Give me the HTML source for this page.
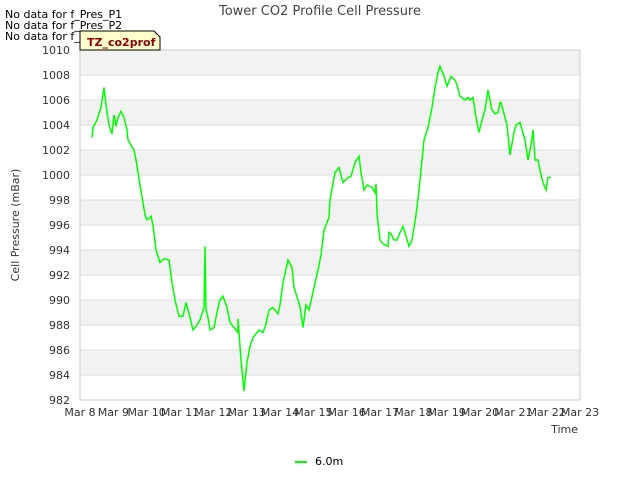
<!DOCTYPE html>
<html><head><meta charset="utf-8"><style>
body{margin:0;background:#fff;font-family:"Liberation Sans","DejaVu Sans",sans-serif;}
svg text{font-family:"DejaVu Sans","Liberation Sans",sans-serif;}
</style></head><body>
<svg width="640" height="480" viewBox="0 0 640 480" xmlns="http://www.w3.org/2000/svg">
<rect x="0" y="0" width="640" height="480" fill="#fff"/>
<g id="bands"></g>
<g id="grid"></g>
<rect x="80" y="50" width="500" height="350" fill="none" stroke="#ccc"/>
<g id="yticks" font-size="11" fill="#333" text-anchor="end"></g>
<g id="xticks" font-size="11" fill="#333" text-anchor="middle"></g>
<path id="line" fill="none" stroke="#00ff00" stroke-width="1.5"/>
<text x="320" y="15" font-size="13" fill="#444" text-anchor="middle">Tower CO2 Profile Cell Pressure</text>
<text x="19" y="225" font-size="11" fill="#333" text-anchor="middle" transform="rotate(-90 19 225)">Cell Pressure (mBar)</text>
<text x="578" y="433" font-size="11" fill="#333" text-anchor="end">Time</text>
<g font-size="11" fill="#000">
<text x="5" y="18">No data for f_Pres_P1</text>
<text x="5" y="29">No data for f_Pres_P2</text>
<text x="5" y="40">No data for f_Pres_P4</text>
</g>
<g>
<path d="M80,31 L154,31 L160,37 L160,50 L80,50 Z" fill="#ffffcc" stroke="#000" stroke-width="1"/>
<text x="87" y="46" font-size="11" font-weight="bold" fill="#8b0000">TZ_co2prof</text>
</g>
<g>
<line x1="295" y1="462" x2="307" y2="462" stroke="#00ff00" stroke-width="2"/>
<text x="315" y="465" font-size="11" fill="#000">6.0m</text>
</g>
</svg>
<script>
const xTickLabels=["Mar 8","Mar 9","Mar 10","Mar 11","Mar 12","Mar 13","Mar 14","Mar 15","Mar 16","Mar 17","Mar 18","Mar 19","Mar 20","Mar 21","Mar 22","Mar 23"];
const yTickValues=[982,984,986,988,990,992,994,996,998,1000,1002,1004,1006,1008,1010];
// days since Mar 8
const times=[0.36,0.39,0.51,0.63,0.72,0.78,0.87,0.96,1.02,1.08,1.14,1.23,1.32,1.41,1.44,1.53,1.62,1.68,1.8,1.95,2.01,2.13,2.19,2.28,2.4,2.52,2.67,2.76,2.85,2.97,3.09,3.18,3.27,3.39,3.51,3.6,3.72,3.75,3.78,3.84,3.9,4.02,4.11,4.2,4.29,4.41,4.5,4.74,4.74,4.83,4.92,5.01,5.1,5.19,5.37,5.49,5.58,5.67,5.79,5.94,6.0,6.09,6.24,6.36,6.42,6.6,6.69,6.78,6.87,7.14,7.23,7.32,7.47,7.5,7.65,7.77,7.89,8.04,8.13,8.25,8.37,8.43,8.52,8.61,8.76,8.85,8.88,8.91,8.94,9.0,9.09,9.24,9.27,9.33,9.42,9.51,9.6,9.69,9.78,9.87,9.96,10.08,10.17,10.32,10.44,10.56,10.65,10.74,10.8,10.92,11.01,11.13,11.25,11.31,11.4,11.55,11.64,11.7,11.79,11.88,11.97,12.06,12.15,12.24,12.36,12.45,12.54,12.6,12.63,12.81,12.9,13.02,13.08,13.2,13.35,13.44,13.53,13.59,13.65,13.74,13.83,13.89,13.98,14.04,14.13];
const pressure=[1003.0,1003.8,1004.4,1005.4,1007.0,1005.6,1004.0,1003.3,1004.8,1003.9,1004.6,1005.1,1004.6,1003.6,1002.8,1002.4,1002.0,1001.2,999.2,996.8,996.4,996.7,996.0,994.0,993.0,993.3,993.2,991.4,990.0,988.7,988.7,989.8,988.9,987.6,988.0,988.4,989.4,994.3,989.2,988.6,987.6,987.8,989.0,990.0,990.3,989.4,988.2,987.4,988.5,985.2,982.7,985.0,986.3,987.0,987.6,987.4,988.1,989.2,989.4,988.9,989.6,991.4,993.2,992.6,991.0,989.5,987.8,989.6,989.2,992.4,993.6,995.6,996.6,998.0,1000.2,1000.6,999.4,999.8,999.9,1001.0,1001.5,1000.2,998.8,999.2,999.0,998.6,999.3,997.0,996.2,994.8,994.5,994.3,995.4,995.3,994.8,994.8,995.4,995.9,995.1,994.3,994.8,996.8,998.8,1002.8,1003.8,1005.4,1007.0,1008.2,1008.7,1007.9,1007.1,1007.9,1007.6,1007.2,1006.3,1006.0,1006.2,1006.0,1006.2,1004.6,1003.4,1004.4,1005.2,1006.8,1005.2,1004.9,1005.0,1005.8,1005.8,1004.0,1001.6,1003.4,1004.0,1004.2,1002.8,1001.2,1002.4,1003.6,1001.2,1001.2,1000.0,999.4,998.8,999.8,999.8,999.6];
const X0=80,X1=580,Y0=400,Y1=50;
const xScale=d=>X0+(X1-X0)*d/15;
const yScale=v=>Y0-(Y0-Y1)*(v-982)/28;
const NS="http://www.w3.org/2000/svg";
const bands=document.getElementById('bands'),grid=document.getElementById('grid'),yt=document.getElementById('yticks'),xt=document.getElementById('xticks');
for(let i=0;i<yTickValues.length-1;i++){
 if(i%2===1){
  const r=document.createElementNS(NS,'rect');
  r.setAttribute('x',X0);r.setAttribute('y',yScale(yTickValues[i+1]));r.setAttribute('width',X1-X0);r.setAttribute('height',yScale(yTickValues[i])-yScale(yTickValues[i+1]));r.setAttribute('fill','#f2f2f2');
  
  
  bands.appendChild(r);
 }
}
yTickValues.forEach(v=>{
 const l=document.createElementNS(NS,'line');
 l.setAttribute('x1',X0);l.setAttribute('x2',X1);l.setAttribute('y1',yScale(v));l.setAttribute('y2',yScale(v));l.setAttribute('stroke','#ddd');
 
 
 grid.appendChild(l);
 const t=document.createElementNS(NS,'text');
 t.setAttribute('x',X0-10);t.setAttribute('y',yScale(v)+4);t.textContent=v;
 
 
 yt.appendChild(t);
});
xTickLabels.forEach((s,i)=>{
 const t=document.createElementNS(NS,'text');
 t.setAttribute('x',xScale(i));t.setAttribute('y',416);t.textContent=s;
 
 
 xt.appendChild(t);
});
document.getElementById('line').setAttribute('d',times.map((d,i)=>(i?'L':'M')+xScale(d).toFixed(1)+','+yScale(pressure[i]).toFixed(1)).join(' '));
</script>
</body></html>
